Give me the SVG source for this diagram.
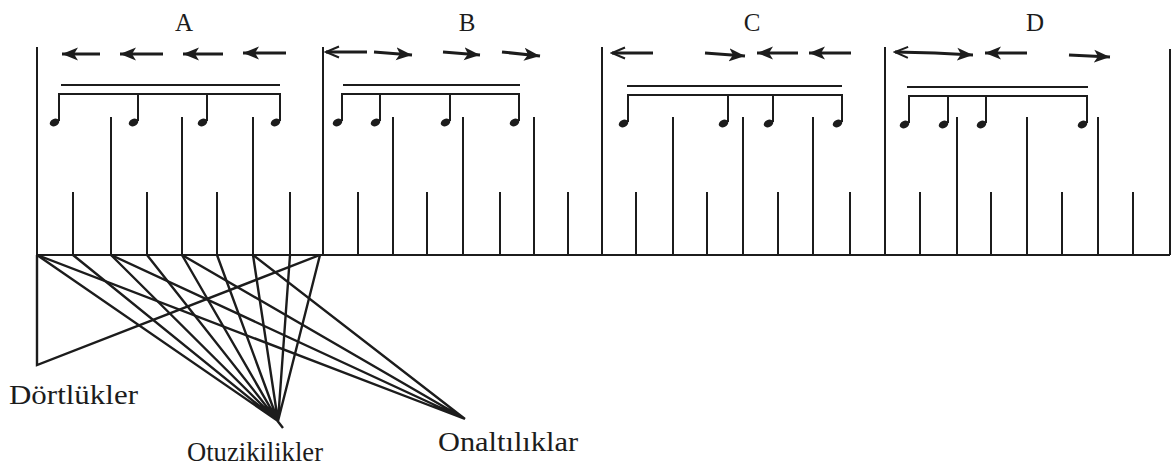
<svg xmlns="http://www.w3.org/2000/svg" width="1173" height="471" viewBox="0 0 1173 471">
<defs>
<marker id="fh" markerUnits="userSpaceOnUse" markerWidth="17" markerHeight="15" refX="16" refY="7.5" orient="auto-start-reverse"><path d="M0,1 L16,7.5 L0,14 L4,7.5 z" fill="#1c1c1c"/></marker>
<marker id="oh" markerUnits="userSpaceOnUse" markerWidth="16" markerHeight="14" refX="14" refY="7" orient="auto-start-reverse"><path d="M1,1.5 L14,7 L1,12.5" fill="none" stroke="#1c1c1c" stroke-width="2"/></marker>
</defs>
<style>
.ln{stroke:#1c1c1c;stroke-width:2;fill:none}
.fn{stroke:#1c1c1c;stroke-width:2.4;fill:none}
.ar{stroke:#1c1c1c;stroke-width:3;fill:none}
.fa{marker-end:url(#fh)}
.oa{marker-end:url(#oh)}
.hd{fill:#1c1c1c}
.lab{fill:#1c1c1c}
.ml{font-size:25px;text-anchor:middle}
.bl{font-size:27px}
</style>
<rect width="1173" height="471" fill="#ffffff"/>
<g id="staff">
<path class="ln" d="M37,255 H1170 M37,47 V255 M323,47 V255 M602,47 V255 M885,47 V255 M1170,49 V255"/>
</g>
<g id="measure-A">
<text class="lab ml" font-family="Liberation Serif, DejaVu Serif, serif" x="184" y="31">A</text>
<path class="ln" d="M73,192 V255 M111,117 V255 M147,192 V255 M182,117 V255 M217,192 V255 M253,117 V255 M290,192 V255"/>
<path class="ar fa" d="M100,54 H62"/>
<path class="ar fa" d="M163,54 H120"/>
<path class="ar fa" d="M223,54 H183"/>
<path class="ar fa" d="M286,53 H243"/>
<path class="ln" d="M61,85 H280 M59,121 V94 H280 V121 M138,94 V121 M207,94 V121"/>
<ellipse class="hd" cx="54.5" cy="122.5" rx="5" ry="3.6" transform="rotate(-25 54.5 122.5)"/>
<ellipse class="hd" cx="133.5" cy="122.5" rx="5" ry="3.6" transform="rotate(-25 133.5 122.5)"/>
<ellipse class="hd" cx="202.5" cy="122.5" rx="5" ry="3.6" transform="rotate(-25 202.5 122.5)"/>
<ellipse class="hd" cx="275.5" cy="122.5" rx="5" ry="3.6" transform="rotate(-25 275.5 122.5)"/>
</g>
<g id="measure-B">
<text class="lab ml" font-family="Liberation Serif, DejaVu Serif, serif" x="467" y="31">B</text>
<path class="ln" d="M358,192 V255 M393,117 V255 M427,192 V255 M463,117 V255 M500,192 V255 M534,117 V255 M568,192 V255"/>
<path class="ar oa" d="M367,52 H326"/>
<path class="ar fa" d="M374,52 L412,55"/>
<path class="ar fa" d="M443,52 L480,55"/>
<path class="ar fa" d="M502,52 L540,56"/>
<path class="ln" d="M343,85 H520 M342,121 V94 H519 V121 M380,94 V121 M450,94 V121"/>
<ellipse class="hd" cx="337.5" cy="122.5" rx="5" ry="3.6" transform="rotate(-25 337.5 122.5)"/>
<ellipse class="hd" cx="375.5" cy="122.5" rx="5" ry="3.6" transform="rotate(-25 375.5 122.5)"/>
<ellipse class="hd" cx="445.5" cy="122.5" rx="5" ry="3.6" transform="rotate(-25 445.5 122.5)"/>
<ellipse class="hd" cx="514.5" cy="122.5" rx="5" ry="3.6" transform="rotate(-25 514.5 122.5)"/>
</g>
<g id="measure-C">
<text class="lab ml" font-family="Liberation Serif, DejaVu Serif, serif" x="752" y="31">C</text>
<path class="ln" d="M636,192 V255 M673,117 V255 M707,192 V255 M743,117 V255 M778,192 V255 M813,117 V255 M850,192 V255"/>
<path class="ar oa" d="M653,53 H612"/>
<path class="ar fa" d="M705,53 L745,56"/>
<path class="ar fa" d="M798,53 H757"/>
<path class="ar fa" d="M851,53 H809"/>
<path class="ln" d="M627,86 H842 M628,122 V95 H842 V122 M728,95 V122 M773,95 V122"/>
<ellipse class="hd" cx="623.5" cy="123.5" rx="5" ry="3.6" transform="rotate(-25 623.5 123.5)"/>
<ellipse class="hd" cx="723.5" cy="123.5" rx="5" ry="3.6" transform="rotate(-25 723.5 123.5)"/>
<ellipse class="hd" cx="768.5" cy="123.5" rx="5" ry="3.6" transform="rotate(-25 768.5 123.5)"/>
<ellipse class="hd" cx="837.5" cy="123.5" rx="5" ry="3.6" transform="rotate(-25 837.5 123.5)"/>
</g>
<g id="measure-D">
<text class="lab ml" font-family="Liberation Serif, DejaVu Serif, serif" x="1035" y="31">D</text>
<path class="ln" d="M920,192 V255 M957,117 V255 M991,192 V255 M1027,117 V255 M1062,192 V255 M1098,117 V255 M1133,192 V255"/>
<path class="ar fa" d="M895,52 L935,53 L973,55" marker-start="url(#oh)"/>
<path class="ar fa" d="M1027,53 H985"/>
<path class="ar fa" d="M1069,55 L1110,57"/>
<path class="ln" d="M907,87 H1088 M909,123 V96 H1087 V123 M948,96 V123 M986,96 V123"/>
<ellipse class="hd" cx="904.5" cy="124.5" rx="5" ry="3.6" transform="rotate(-25 904.5 124.5)"/>
<ellipse class="hd" cx="943.5" cy="124.5" rx="5" ry="3.6" transform="rotate(-25 943.5 124.5)"/>
<ellipse class="hd" cx="981.5" cy="124.5" rx="5" ry="3.6" transform="rotate(-25 981.5 124.5)"/>
<ellipse class="hd" cx="1082.5" cy="124.5" rx="5" ry="3.6" transform="rotate(-25 1082.5 124.5)"/>
</g>
<g id="connectors">
<path class="fn" d="M37,255 V365 L320,255"/>
<path class="fn" d="M37,255 L278,421 M73,255 L278,421 M111,255 L278,421 M147,255 L278,421 M182,255 L278,421 M217,255 L278,421 M253,255 L278,421 M290,255 L278,421 M320,255 L278,421 M276,419 L283,428"/>
<path class="fn" d="M37,255 L465,419 M111,255 L465,419 M182,255 L465,419 M253,255 L465,419"/>
</g>
<g id="label-dortlukler"><text class="lab bl" font-family="Liberation Serif, DejaVu Serif, serif" x="9" y="404" textLength="129" lengthAdjust="spacingAndGlyphs">Dörtlükler</text></g>
<g id="label-otuzikilikler"><text class="lab bl" font-family="Liberation Serif, DejaVu Serif, serif" x="187" y="461" textLength="136" lengthAdjust="spacingAndGlyphs">Otuzikilikler</text></g>
<g id="label-onaltiliklar"><text class="lab bl" font-family="Liberation Serif, DejaVu Serif, serif" x="438" y="451" textLength="140" lengthAdjust="spacingAndGlyphs">Onaltılıklar</text></g>
</svg>
